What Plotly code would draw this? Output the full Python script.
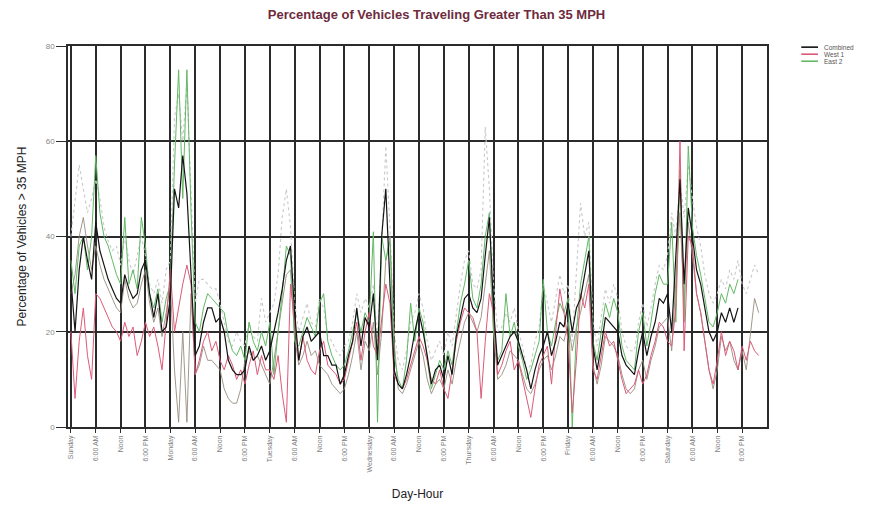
import plotly.graph_objects as go

# Hour index across the week (Sunday 00:00 = 0)
hours = list(range(167))

day_names = ["Sunday", "Monday", "Tuesday", "Wednesday", "Thursday", "Friday", "Saturday"]
tick_labels = []
for d in day_names:
    tick_labels += [d, "6:00 AM", "Noon", "6:00 PM"]
tick_hours = list(range(0, 168, 6))

# Percentage of vehicles > 35 MPH, hourly
combined = [
    31, 20, 33, 40, 35, 31, 43, 37, 34, 31, 29, 27, 26, 32, 29, 27, 28, 33, 35, 28, 23, 28, 20, 21,
    27, 50, 46, 57, 49, 33, 15, 17, 22, 25, 25, 22, 23, 20, 14, 12, 11, 11, 12, 17, 14, 15, 17, 14,
    16, 20, 24, 29, 35, 38, 24, 14, 19, 21, 18, 19, 20, 15, 15, 13, 13, 9, 11, 15, 18, 25, 17, 23,
    21, 28, 14, 40, 50, 30, 12, 9, 8, 11, 15, 20, 24, 20, 15, 9, 12, 13, 10, 15, 11, 19, 23, 27,
    28, 25, 24, 27, 36, 44, 25, 13, 15, 17, 19, 20, 18, 15, 12, 8, 12, 15, 17, 20, 15, 18, 22, 21,
    26, 20, 25, 27, 32, 37, 17, 12, 17, 23, 22, 21, 20, 15, 13, 12, 11, 16, 20, 15, 19, 22, 27, 26,
    28, 20, 35, 52, 30, 46, 40, 33, 30, 25, 20, 18, 20, 24, 22, 25, 22, 25, None, None, None, None, None,
]
west_1 = [
    20, 6, 18, 25, 15, 10, 28, 27, 25, 23, 21, 20, 18, 22, 19, 21, 15, 18, 22, 19, 21, 17, 12, 22,
    33, 20, 25, 30, 34, 30, 11, 14, 18, 20, 16, 18, 14, 12, 15, 13, 10, 12, 9, 13, 16, 11, 15, 12,
    12, 10, 15, 7, 1, 30, 22, 14, 19, 14, 12, 11, 16, 18, 13, 12, 11, 9, 10, 14, 18, 22, 14, 20,
    24, 17, 15, 22, 30, 26, 11, 9, 8, 10, 13, 16, 19, 17, 14, 10, 9, 12, 8, 6, 12, 18, 22, 25,
    24, 23, 20, 6, 18, 28, 24, 11, 13, 16, 18, 12, 14, 10, 6, 2, 8, 13, 15, 17, 9, 20, 29, 24,
    18, 3, 14, 28, 25, 30, 12, 10, 15, 20, 17, 18, 14, 10, 7, 8, 9, 12, 9, 11, 15, 18, 22, 21,
    18, 17, 25, 60, 16, 40, 38, 28, 24, 18, 12, 9, 14, 20, 15, 18, 16, 12, 17, 14, 18, 16, 15,
]
east_2 = [
    35, 28, 38, 40, 33, 40, 57, 45, 40, 38, 35, 32, 30, 44, 30, 33, 29, 44, 38, 28, 25, 29, 22, 27,
    30, 55, 75, 48, 75, 45, 22, 20, 25, 28, 27, 26, 25, 24, 19, 16, 15, 17, 14, 22, 18, 16, 20, 17,
    22, 11, 20, 28, 38, 36, 18, 17, 20, 23, 21, 19, 26, 28, 18, 15, 13, 12, 13, 16, 20, 24, 20, 24,
    22, 41, 1, 40, 35, 39, 15, 10, 8, 14, 26, 18, 25, 22, 14, 8, 11, 14, 12, 16, 13, 20, 26, 30,
    35, 27, 25, 30, 40, 45, 20, 14, 16, 28, 19, 22, 17, 14, 10, 12, 15, 18, 31, 20, 17, 22, 26, 24,
    27, 0, 20, 30, 35, 40, 18, 14, 20, 26, 23, 27, 24, 17, 14, 13, 12, 20, 24, 17, 22, 28, 32, 30,
    30, 43, 22, 54, 22, 59, 42, 36, 32, 27, 22, 21, 24, 28, 26, 30, 28, 31, None, None, None, None, None,
]
east_1 = [
    40, 48, 55, 50, 45, 48, 52, 48, 42, 39, 37, 38, 34, 40, 35, 32, 36, 40, 36, 30, 28, 31, 26, 33,
    35, 65, 70, 60, 72, 48, 26, 31, 31, 30, 29, 29, 26, 22, 18, 17, 20, 18, 17, 22, 19, 18, 27, 22,
    24, 26, 32, 44, 50, 42, 26, 20, 23, 26, 22, 21, 27, 25, 19, 18, 16, 15, 17, 18, 22, 28, 24, 27,
    25, 30, 18, 40, 59, 42, 20, 14, 12, 16, 22, 24, 28, 25, 18, 14, 16, 18, 15, 20, 17, 24, 30, 35,
    37, 30, 29, 33, 63, 50, 30, 20, 21, 24, 22, 25, 20, 17, 12, 13, 18, 21, 30, 26, 22, 27, 32, 28,
    30, 18, 32, 47, 40, 43, 22, 17, 23, 29, 26, 30, 27, 20, 17, 16, 16, 22, 26, 21, 25, 30, 34, 33,
    36, 45, 40, 52, 44, 55, 48, 42, 38, 32, 28, 26, 28, 31, 29, 33, 31, 35, 30, 28, 31, 34, 32,
]
west_2 = [
    28, 32, 40, 44, 38, 33, 38, 34, 31, 29, 27, 25, 24, 31, 27, 25, 26, 30, 33, 26, 22, 25, 19, 24,
    30, 12, 1, 20, 1, 28, 11, 13, 17, 14, 14, 13, 12, 8, 6, 5, 5, 8, 14, 16, 14, 15, 13, 11,
    9, 14, 20, 25, 32, 33, 19, 13, 15, 18, 15, 16, 13, 12, 11, 9, 8, 7, 8, 11, 15, 20, 12, 18,
    16, 22, 11, 20, 35, 40, 18, 8, 7, 9, 12, 15, 18, 15, 10, 7, 9, 10, 8, 12, 9, 14, 18, 22,
    24, 22, 20, 23, 30, 37, 20, 10, 11, 13, 16, 15, 14, 11, 8, 7, 9, 12, 14, 15, 12, 15, 19, 18,
    22, 16, 21, 24, 28, 32, 13, 9, 13, 19, 18, 17, 15, 11, 8, 7, 8, 12, 14, 10, 14, 17, 21, 22,
    23, 16, 30, 45, 26, 43, 36, 28, 24, 18, 12, 8, 12, 19, 16, 18, 14, 12, 16, 12, 20, 27, 24,
]

FONT = "Liberation Sans, Arial, sans-serif"
GRID = "#2b2b2b"

# Named series shown in the key: (label, colour, width)
legend_series = [
    ("Combined", "#111111", 1.6),
    ("West 1", "#dc5a78", 1.6),
    ("East 2", "#62b865", 1.6),
]

fig = go.Figure()
fig.add_trace(go.Scatter(x=hours, y=east_1, mode="lines", name="East 1",
                         line=dict(color="#c9c9c9", width=1.1, dash="dot")))
fig.add_trace(go.Scatter(x=hours, y=west_2, mode="lines", name="West 2",
                         line=dict(color="#968c7e", width=0.9)))
fig.add_trace(go.Scatter(x=hours, y=east_2, mode="lines", name="East 2",
                         line=dict(color="#62b865", width=1.0)))
fig.add_trace(go.Scatter(x=hours, y=west_1, mode="lines", name="West 1",
                         line=dict(color="#dc5a78", width=1.0)))
fig.add_trace(go.Scatter(x=hours, y=combined, mode="lines", name="Combined",
                         line=dict(color="#151515", width=1.2)))

# Compact key to the right of the plot
shapes, annotations = [], []
for i, (label, colour, w) in enumerate(legend_series):
    yk = 0.997 - i * 0.0185
    shapes.append(dict(type="line", xref="paper", yref="paper",
                       x0=1.049, x1=1.073, y0=yk, y1=yk,
                       line=dict(color=colour, width=w)))
    annotations.append(dict(text=label, xref="paper", yref="paper", x=1.078, y=yk,
                            xanchor="left", yanchor="middle", showarrow=False,
                            font=dict(size=6.5, color="#555555", family=FONT)))

fig.update_layout(
    width=873, height=506,
    paper_bgcolor="white", plot_bgcolor="white",
    margin=dict(l=68, r=106, t=46, b=79),
    font=dict(family=FONT, color="#333333"),
    title=dict(text="Percentage of Vehicles Traveling Greater Than 35 MPH",
               x=0.5, xanchor="center", y=0.972, yanchor="middle",
               font=dict(size=13, color="#6e2b3d", family=FONT, weight="bold")),
    showlegend=False,
    shapes=shapes,
    annotations=annotations,
)
fig.update_xaxes(
    range=[-0.7, 168], tickvals=tick_hours, ticktext=tick_labels, tickangle=-90,
    tickfont=dict(size=7, color="#808080"), ticks="outside", ticklen=4, tickcolor=GRID,
    showgrid=True, gridcolor=GRID, gridwidth=2, zeroline=False, automargin=False,
    showline=True, linecolor=GRID, linewidth=1.5, mirror=True,
    title=dict(text="Day-Hour", font=dict(size=12, color="#222222"), standoff=18),
)
fig.update_yaxes(
    range=[0, 80], tickvals=[0, 20, 40, 60, 80],
    tickfont=dict(size=8, color="#888888"), ticks="outside", ticklen=10, tickcolor=GRID,
    showgrid=True, gridcolor=GRID, gridwidth=2, zeroline=False, automargin=False,
    showline=True, linecolor=GRID, linewidth=1.5, mirror=True,
    title=dict(text="Percentage of Vehicles > 35 MPH", font=dict(size=12, color="#222222"), standoff=17),
)

fig.write_html("out.html")
